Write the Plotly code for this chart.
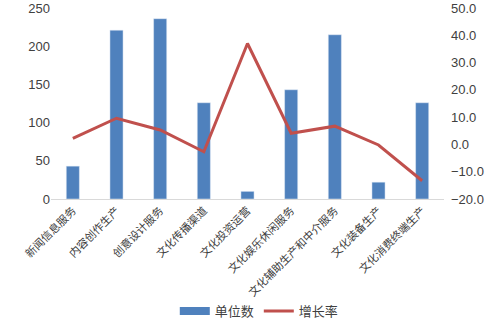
import plotly.graph_objects as go

categories = ["新闻信息服务", "内容创作生产", "创意设计服务", "文化传播渠道", "文化投资运营",
              "文化娱乐休闲服务", "文化辅助生产和中介服务", "文化装备生产", "文化消费终端生产"]
units = [43, 221, 236, 126, 10, 143, 215, 22, 126]
growth = [2.2, 9.6, 5.3, -2.7, 37.0, 4.1, 6.7, -0.2, -13.3]
left_ticks = [0, 50, 100, 150, 200, 250]
right_ticks = [-20, -10, 0, 10, 20, 30, 40, 50]

BLUE = "#4F81BD"
RED = "#C0504D"

fig = go.Figure()
fig.add_trace(go.Bar(x=categories, y=units, name="单位数", marker_color=BLUE, yaxis="y",
                     showlegend=False))
fig.add_trace(go.Scatter(x=categories, y=growth, name="增长率", mode="lines",
                         line=dict(color=RED, width=3), yaxis="y2", showlegend=False))
# legend entries (Excel-style wide swatches)
fig.add_trace(go.Scatter(x=[None], y=[None], name="单位数", mode="lines",
                         line=dict(color=BLUE, width=8), yaxis="y"))
fig.add_trace(go.Scatter(x=[None], y=[None], name="增长率", mode="lines",
                         line=dict(color=RED, width=3), yaxis="y2"))

font_cjk = "Liberation Sans, Arial, Noto Sans CJK SC, sans-serif"
fig.update_layout(
    width=489, height=323,
    margin=dict(l=51, r=45, t=8, b=124),
    paper_bgcolor="white", plot_bgcolor="white",
    font=dict(family=font_cjk, size=13, color="#404040"),
    bargap=0.7,
    showlegend=True,
    legend=dict(orientation="h", x=0.53, xanchor="center",
                yref="container", y=12 / 323, yanchor="middle",
                bgcolor="rgba(0,0,0,0)", itemwidth=30,
                font=dict(size=13, color="#404040")),
    xaxis=dict(showline=True, linecolor="#D9D9D9", linewidth=1, ticks="", tickangle=-45,
               automargin=False, tickfont=dict(size=11, color="#404040")),
    yaxis=dict(range=[0, 250], tickvals=left_ticks, showgrid=False, zeroline=False,
               automargin=False, tickfont=dict(size=13, color="#404040")),
    yaxis2=dict(range=[-20, 50], tickvals=right_ticks, tickformat=".1f", overlaying="y",
                side="right", showgrid=False, zeroline=False, automargin=False,
                ticklabelstandoff=6,
                tickfont=dict(size=13, color="#404040")),
)

fig.write_html("out.html")
